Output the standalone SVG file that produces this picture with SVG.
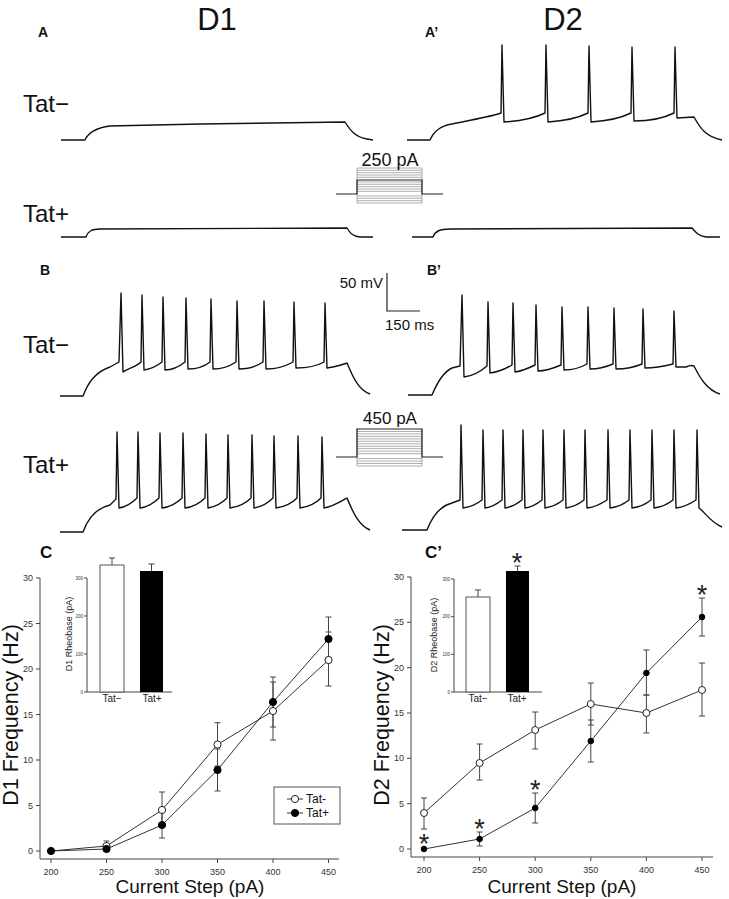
<svg xmlns="http://www.w3.org/2000/svg" width="729" height="899" viewBox="0 0 729 899">
<style>
text{font-family:"Liberation Sans",Arial,sans-serif;fill:#111}
.tr{fill:none;stroke:#111;stroke-width:1.4;stroke-linejoin:round}
.hd{font-size:31px;text-anchor:middle}
.pl{font-size:14px;font-weight:bold}
.pl2{font-size:17px;font-weight:bold}
.tat{font-size:24px}
.stl{fill:none;stroke:#9a9a9a;stroke-width:0.8}
.stk{fill:none;stroke:#222;stroke-width:1.2}
.ax{fill:none;stroke:#444;stroke-width:1}
.tk{font-size:9px;fill:#333}
.tky{font-size:9px;fill:#333;text-anchor:end}
.itk{font-size:4.5px;fill:#333;text-anchor:end}
.ilb{font-size:10px;text-anchor:middle;fill:#222}
.irl{font-size:9px;text-anchor:middle;fill:#222}
.axl{font-size:21.5px;text-anchor:middle}
.axx{font-size:19px;text-anchor:middle}
.eb{fill:none;stroke:#444;stroke-width:1}
.ln{fill:none;stroke:#333;stroke-width:1}
.op{fill:#fff;stroke:#222;stroke-width:1}
.fl{fill:#000;stroke:#000;stroke-width:1}
.ast{font-size:27px;text-anchor:middle;fill:#222}
.sc{font-size:15px}
</style>

<g id="headers">
<text class="hd" x="217" y="30">D1</text>
<text class="hd" x="563" y="30">D2</text>
<text class="pl" x="38" y="37">A</text>
<text class="pl" x="425" y="37">A’</text>
<text class="pl" x="40" y="275">B</text>
<text class="pl" x="427" y="275">B’</text>
<text class="pl2" x="40" y="558">C</text>
<text class="pl2" x="425" y="558">C’</text>
</g>

<g id="row-labels">
<text class="tat" x="23" y="112">Tat−</text>
<text class="tat" x="23" y="222">Tat+</text>
<text class="tat" x="23" y="353">Tat−</text>
<text class="tat" x="23" y="473">Tat+</text>
</g>

<g id="trace-A-tatminus">
<path class="tr" d="M61,140 L85,140 C88,133 95,128 110,126 L200,124 L345,122 C350,130 355,137 367,139 L373,140"/>
</g>
<g id="trace-A-tatplus">
<path class="tr" d="M61,237 L86,237 C88,231 92,229 100,229 L347,228 C350,233 352,236 360,237 L373,237"/>
</g>
<g id="trace-A2-tatminus">
<path class="tr" d="M407,140 L430,140 C434,131 440,126 452,124 C470,120 490,117 501,113 L502,45 L504,122 C520,121 535,118 545,113 L546,45 L548,122 C563,121 578,118 588,113 L589,46 L591,122 C606,121 621,118 631,113 L632,47 L634,121 C649,121 664,118 674,113 L675,47 L677,118 L694,117 C700,128 706,137 722,140"/>
</g>
<g id="trace-A2-tatplus">
<path class="tr" d="M412,237 L433,237 C435,231 440,229 450,229 L692,228 C696,233 699,236 706,237 L720,237"/>
</g>

<g id="trace-B-tatminus">
<path class="tr" d="M60,396 L83,396 C88,383 95,372 110,367 L119,362 L121,293 L123,372 C128,368 136,367 141,362 L142,295 L144,370 C150,369 157,366 162,362 L163,297 L165,370 C172,370 180,366 185,362 L186,298 L188,369 C196,369 205,366 210,362 L211,299 L213,369 C221,369 230,366 236,362 L237,301 L239,369 C247,369 257,366 263,362 L264,301 L266,369 C275,369 286,366 293,362 L294,302 L296,368 C305,368 317,366 324,362 L325,303 L327,368 C333,367 340,366 347,363 C352,375 358,390 370,394"/>
</g>
<g id="trace-B-tatplus">
<path class="tr" d="M60,532 L83,532 C88,518 97,508 110,505 L116,499 L117,432 L119,508 C126,507 132,503 137,498 L138,432 L140,508 C148,507 154,503 159,498 L160,433 L162,508 C170,507 177,503 182,498 L183,433 L185,508 C193,507 200,503 205,498 L206,434 L208,508 C215,507 222,503 227,498 L228,435 L230,508 C238,507 246,503 251,498 L252,435 L254,508 C261,507 268,503 273,498 L274,436 L276,508 C284,507 292,503 297,498 L298,436 L300,508 C308,507 316,503 321,498 L322,437 L324,508 C332,507 340,502 347,498 C352,510 358,525 370,530"/>
</g>
<g id="trace-B2-tatminus">
<path class="tr" d="M408,395 L432,395 C437,383 443,372 452,368 L460,366 L462,295 L464,377 C472,376 480,372 487,366 L488,302 L490,373 C498,372 505,369 512,365 L513,303 L515,372 C522,371 529,368 535,365 L536,305 L538,371 C546,371 554,368 561,365 L562,307 L564,370 C572,370 580,368 587,364 L588,307 L590,369 C598,369 606,367 613,364 L614,308 L616,369 C625,369 635,367 642,364 L643,309 L645,368 C655,368 665,366 673,364 L674,311 L676,367 L686,367 C690,365 692,365 694,366 C700,378 707,390 720,394"/>
</g>
<g id="trace-B2-tatplus">
<path class="tr" d="M402,530 L427,530 C432,517 440,506 452,503 L460,500 L461,425 L463,508 C470,507 477,504 482,500 L483,430 L485,508 C492,507 497,504 502,500 L503,430 L505,508 C512,507 517,504 522,500 L523,430 L525,508 C532,507 537,504 542,500 L543,430 L545,508 C552,507 558,504 563,500 L564,430 L566,508 C573,507 579,504 584,500 L585,430 L587,508 C595,507 601,504 607,500 L608,430 L610,508 C618,507 624,504 629,500 L630,430 L632,508 C640,507 646,504 651,500 L652,430 L654,508 C662,507 668,504 673,500 L674,430 L676,508 C684,507 690,504 696,500 L697,430 L699,508 C705,512 710,522 722,527"/>
</g>

<g id="stim-250">
<path class="stl" d="M357,168H422M357,170.3H422M357,172.7H422M357,175H422M357,177.3H422M357,182H422M357,184.3H422M357,186.7H422M357,189H422M357,191.3H422M357,196H422M357,198.3H422M357,200.7H422M357,203H422M357,168V203M422,168V203"/>
<path class="stk" d="M336,194H357V180H422V194H443"/>
<text x="390" y="166" font-size="18" text-anchor="middle">250 pA</text>
</g>

<g id="stim-450">
<path class="stl" d="M357,431.5H422M357,433.9H422M357,436.4H422M357,438.9H422M357,441.3H422M357,443.8H422M357,446.3H422M357,448.7H422M357,451.2H422M357,453.7H422M357,458.6H422M357,461.1H422M357,463.5H422M357,466H422M357,429V466M422,429V466"/>
<path class="stk" d="M336,457H357V429H422V457H443"/>
<text x="390" y="424" font-size="17" text-anchor="middle">450 pA</text>
</g>

<g id="scalebar">
<path class="stk" d="M387,273V311H420"/>
<text class="sc" x="383" y="288" text-anchor="end">50 mV</text>
<text class="sc" x="385" y="330">150 ms</text>
</g>

<g id="plot-C">
<path class="ax" d="M40,578V859H339M36,578H40M36,623.5H40M36,669H40M36,714.5H40M36,760H40M36,805.5H40M36,851H40M51,859V863M106.5,859V863M162,859V863M217.5,859V863M273,859V863M328.5,859V863"/>
<text class="tky" x="33" y="581">30</text>
<text class="tky" x="33" y="626.5">25</text>
<text class="tky" x="33" y="672">20</text>
<text class="tky" x="33" y="717.5">15</text>
<text class="tky" x="33" y="763">10</text>
<text class="tky" x="33" y="808.5">5</text>
<text class="tky" x="33" y="854">0</text>
<text class="tk" x="51" y="875" text-anchor="middle">200</text>
<text class="tk" x="106.5" y="875" text-anchor="middle">250</text>
<text class="tk" x="162" y="875" text-anchor="middle">300</text>
<text class="tk" x="217.5" y="875" text-anchor="middle">350</text>
<text class="tk" x="273" y="875" text-anchor="middle">400</text>
<text class="tk" x="328.5" y="875" text-anchor="middle">450</text>
<text class="axl" transform="translate(18,715) rotate(-90)">D1 Frequency (Hz)</text>
<text class="axx" x="190" y="893">Current Step (pA)</text>
<path class="eb" d="M106.5,841V846M103.5,841H109.5 M162,792V826M159,792H165M159,826H165 M217.5,722.7V766M214.5,722.7H220.5M214.5,766H220.5 M273,682V740M270,682H276M270,740H276 M328.5,632V686M325.5,632H331.5M325.5,686H331.5 M162,812V838M159,838H165 M217.5,749V791M214.5,749H220.5M214.5,791H220.5 M273,677V727M270,677H276M270,727H276 M328.5,617V661M325.5,617H331.5M325.5,661H331.5"/>
<polyline class="ln" points="51,851 106.5,846 162,810 217.5,744.5 273,711 328.5,660"/>
<polyline class="ln" points="51,851 106.5,849 162,825 217.5,770 273,702 328.5,639"/>
<g>
<circle class="op" cx="106.5" cy="846" r="3.6"/>
<circle class="op" cx="162" cy="810" r="3.6"/>
<circle class="op" cx="217.5" cy="744.5" r="3.6"/>
<circle class="op" cx="273" cy="711" r="3.6"/>
<circle class="op" cx="328.5" cy="660" r="3.6"/>
<circle class="fl" cx="51" cy="851" r="3.6"/>
<circle class="fl" cx="106.5" cy="849" r="3.6"/>
<circle class="fl" cx="162" cy="825" r="3.6"/>
<circle class="fl" cx="217.5" cy="770" r="3.6"/>
<circle class="fl" cx="273" cy="702" r="3.6"/>
<circle class="fl" cx="328.5" cy="639" r="3.6"/>
</g>
</g>

<g id="legend-C">
<rect x="274" y="787" width="66" height="37" fill="#fff" stroke="#555" stroke-width="1"/>
<path class="ln" d="M287,799H303M287,813H303"/>
<circle class="op" cx="295" cy="799" r="3.6"/>
<circle class="fl" cx="295" cy="813" r="3.6"/>
<text x="306" y="803" font-size="12" fill="#222">Tat-</text>
<text x="306" y="817" font-size="12" fill="#222">Tat+</text>
</g>

<g id="inset-C">
<path class="ax" d="M87,578V692H172M84,578H87M84,616H87M84,654H87M84,692H87"/>
<text class="itk" x="83" y="579.5">300</text>
<text class="itk" x="83" y="617.5">200</text>
<text class="itk" x="83" y="655.5">100</text>
<text class="itk" x="83" y="693.5">0</text>
<rect x="100" y="565" width="24" height="127" fill="#fff" stroke="#555" stroke-width="1"/>
<rect x="140" y="571" width="23" height="121" fill="#000"/>
<path class="eb" d="M112,565V558M109,558H115M151.5,571V564M148.5,564H154.5"/>
<text class="ilb" x="112" y="702">Tat−</text>
<text class="ilb" x="152" y="702">Tat+</text>
<text class="irl" transform="translate(72,634) rotate(-90)">D1 Rheobase (pA)</text>
</g>

<g id="plot-C2">
<path class="ax" d="M411,577V857H713M407,577H411M407,622.3H411M407,667.7H411M407,713H411M407,758.3H411M407,803.7H411M407,849H411M424,857V861M479.6,857V861M535.2,857V861M590.8,857V861M646.4,857V861M702,857V861"/>
<text class="tky" x="404" y="580">30</text>
<text class="tky" x="404" y="625.3">25</text>
<text class="tky" x="404" y="670.7">20</text>
<text class="tky" x="404" y="716">15</text>
<text class="tky" x="404" y="761.3">10</text>
<text class="tky" x="404" y="806.7">5</text>
<text class="tky" x="404" y="852">0</text>
<text class="tk" x="424" y="873" text-anchor="middle">200</text>
<text class="tk" x="479.6" y="873" text-anchor="middle">250</text>
<text class="tk" x="535.2" y="873" text-anchor="middle">300</text>
<text class="tk" x="590.8" y="873" text-anchor="middle">350</text>
<text class="tk" x="646.4" y="873" text-anchor="middle">400</text>
<text class="tk" x="702" y="873" text-anchor="middle">450</text>
<text class="axl" transform="translate(389,715) rotate(-90)">D2 Frequency (Hz)</text>
<text class="axx" x="562" y="893">Current Step (pA)</text>
<path class="eb" d="M424,798V829M421,798H427M421,829H427 M479.6,744V780M476.6,744H482.6M476.6,780H482.6 M535.2,712V749M532.2,712H538.2M532.2,749H538.2 M590.8,683V725M587.8,683H593.8M587.8,725H593.8 M646.4,695V733M643.4,695H649.4M643.4,733H649.4 M702,663V716M699,663H705M699,716H705 M479.6,832V846M476.6,832H482.6M476.6,846H482.6 M535.2,793V823M532.2,793H538.2M532.2,823H538.2 M590.8,720V762M587.8,720H593.8M587.8,762H593.8 M646.4,650V695M643.4,650H649.4M643.4,695H649.4 M702,598V636M699,598H705M699,636H705"/>
<polyline class="ln" points="424,813 479.6,763 535.2,730 590.8,704 646.4,713 702,690"/>
<polyline class="ln" points="424,849 479.6,839 535.2,808 590.8,741 646.4,673 702,617"/>
<g>
<circle class="op" cx="424" cy="813" r="3.5"/>
<circle class="op" cx="479.6" cy="763" r="3.5"/>
<circle class="op" cx="535.2" cy="730" r="3.5"/>
<circle class="op" cx="590.8" cy="704" r="3.5"/>
<circle class="op" cx="646.4" cy="713" r="3.5"/>
<circle class="op" cx="702" cy="690" r="3.5"/>
<circle class="fl" cx="424" cy="849" r="2.8"/>
<circle class="fl" cx="479.6" cy="839" r="2.8"/>
<circle class="fl" cx="535.2" cy="808" r="2.8"/>
<circle class="fl" cx="590.8" cy="741" r="2.8"/>
<circle class="fl" cx="646.4" cy="673" r="2.8"/>
<circle class="fl" cx="702" cy="617" r="2.8"/>
</g>
<text class="ast" x="424" y="853">*</text>
<text class="ast" x="479.6" y="838">*</text>
<text class="ast" x="535.2" y="799">*</text>
<text class="ast" x="702" y="604">*</text>
</g>

<g id="inset-C2">
<path class="ax" d="M454,579V692H542M451,579H454M451,616.7H454M451,654.3H454M451,692H454"/>
<text class="itk" x="450" y="580.5">300</text>
<text class="itk" x="450" y="618.2">200</text>
<text class="itk" x="450" y="655.8">100</text>
<text class="itk" x="450" y="693.5">0</text>
<rect x="466" y="597" width="24" height="95" fill="#fff" stroke="#555" stroke-width="1"/>
<rect x="506" y="571" width="23" height="121" fill="#000"/>
<path class="eb" d="M478,597V590M475,590H481M517.5,571V566M514.5,566H520.5"/>
<text class="ast" x="517" y="572">*</text>
<text class="ilb" x="478" y="702">Tat−</text>
<text class="ilb" x="517" y="702">Tat+</text>
<text class="irl" transform="translate(437,635) rotate(-90)">D2 Rheobase (pA)</text>
</g>
</svg>
